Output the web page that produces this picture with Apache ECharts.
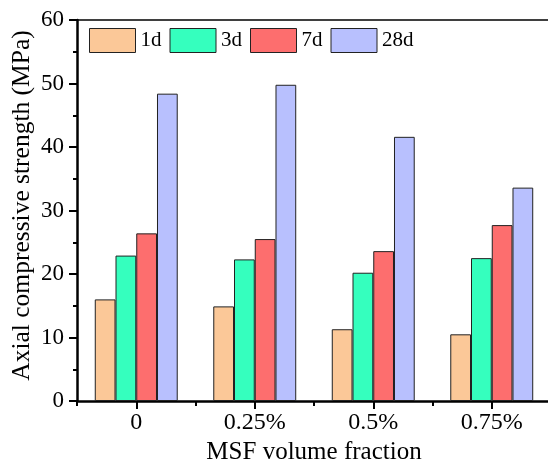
<!DOCTYPE html>
<html>
<head>
<meta charset="utf-8">
<style>
  html, body { margin: 0; padding: 0; background: #fff; }
  #chart { width: 548px; height: 459px; }
</style>
<script src="https://cdn.jsdelivr.net/npm/echarts@6/dist/echarts.min.js"></script>
</head>
<body>
<div id="chart"></div>
<script>
// Axial compressive strength by MSF volume fraction and curing age
const categories = ['0', '0.25%', '0.5%', '0.75%'];
const seriesNames = ['1d', '3d', '7d', '28d'];
const day1 = [16.0, 14.9, 11.3, 10.5];
const day3 = [22.9, 22.3, 20.2, 22.5];
const day7 = [26.4, 25.5, 23.6, 27.7];
const day28 = [48.4, 49.8, 41.6, 33.6];
const yTicks = [0, 10, 20, 30, 40, 50, 60];

const colors = ['#FBC898', '#35FFBE', '#FD6E6E', '#B8C0FE'];
const serif = '"Times New Roman", "Liberation Serif", serif';

const chart = echarts.init(document.getElementById('chart'), null, { renderer: 'canvas' });

const values = [day1, day3, day7, day28];
const gridBox = { left: 77, right: -3, top: 20, bottom: 58, containLabel: false, outerBoundsMode: 'none' };

chart.setOption({
  animation: false,
  textStyle: { fontFamily: serif, color: '#000' },
  grid: [Object.assign({}, gridBox), Object.assign({}, gridBox)],
  legend: {
    left: 89,
    top: 28,
    padding: 0,
    itemWidth: 46,
    itemHeight: 24,
    itemGap: 8,
    icon: 'rect',
    data: seriesNames,
    textStyle: { fontFamily: serif, fontSize: 21, color: '#000' },
    itemStyle: { borderColor: '#222', borderWidth: 1 }
  },
  xAxis: [
    {
      gridIndex: 0,
      type: 'category',
      data: categories,
      position: 'bottom',
      name: 'MSF volume fraction',
      nameLocation: 'middle',
      nameGap: 34,
      nameTextStyle: { fontFamily: serif, fontSize: 25, color: '#000' },
      axisLine: { show: true, lineStyle: { color: '#000', width: 2.5 } },
      axisTick: { show: true, alignWithLabel: true, length: 8, lineStyle: { color: '#000', width: 2 } },
      axisLabel: { fontFamily: serif, fontSize: 24, color: '#000', margin: 10 },
      splitLine: { show: false }
    },
    {
      // top frame line
      gridIndex: 0,
      type: 'category',
      data: categories,
      position: 'top',
      axisLine: { show: true, lineStyle: { color: '#000', width: 1.5 } },
      axisTick: { show: false },
      axisLabel: { show: false },
      splitLine: { show: false }
    },
    {
      // short ticks on group boundaries
      gridIndex: 1,
      type: 'value',
      min: 0,
      max: categories.length,
      interval: 1,
      position: 'bottom',
      axisLine: { show: false },
      axisTick: { show: true, length: 5, lineStyle: { color: '#000', width: 2 } },
      axisLabel: { show: false },
      splitLine: { show: false }
    }
  ],
  yAxis: [
    {
      gridIndex: 0,
      type: 'value',
      min: yTicks[0],
      max: yTicks[yTicks.length - 1],
      interval: 10,
      name: 'Axial compressive strength (MPa)',
      nameLocation: 'middle',
      nameGap: 42,
      nameMoveOverlap: false,
      nameTextStyle: { fontFamily: serif, fontSize: 25.5, color: '#000', padding: [0, 0, 0, 10] },
      axisLine: { show: true, lineStyle: { color: '#000', width: 2.5 } },
      axisTick: { show: true, length: 8, lineStyle: { color: '#000', width: 2 } },
      minorTick: { show: true, splitNumber: 2, length: 4, lineStyle: { color: '#000', width: 2 } },
      axisLabel: { fontFamily: serif, fontSize: 23, color: '#000', margin: 13 },
      splitLine: { show: false }
    },
    {
      gridIndex: 1,
      type: 'value',
      min: 0,
      max: 1,
      show: false
    }
  ],
  series: seriesNames.map((name, i) => ({
    name: name,
    type: 'bar',
    xAxisIndex: 0,
    yAxisIndex: 0,
    data: values[i],
    barGap: '0%',
    barCategoryGap: '30%',
    itemStyle: { color: colors[i], borderColor: '#222', borderWidth: 1 }
  }))
});
</script>
</body>
</html>
